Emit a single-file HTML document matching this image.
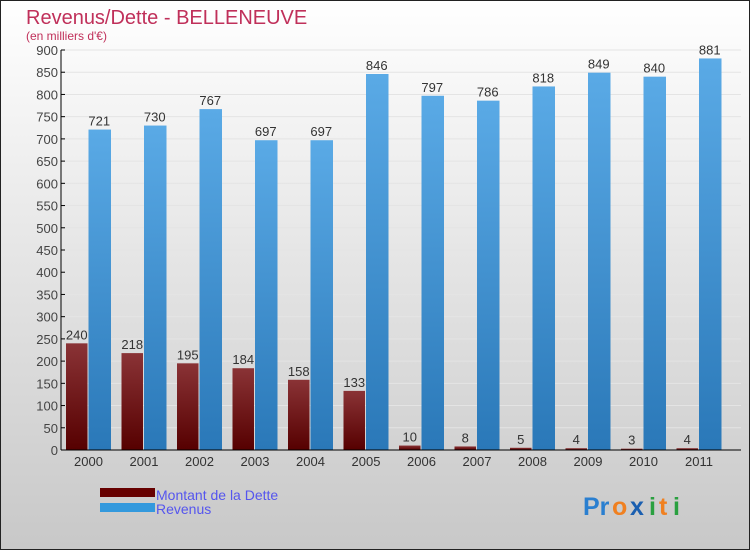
<!DOCTYPE html>
<html><head><meta charset="utf-8"><style>
body{margin:0;}
svg{display:block;font-family:"Liberation Sans",sans-serif;}
</style></head><body>
<svg id="c" width="750" height="550" xmlns="http://www.w3.org/2000/svg">
<defs>
<linearGradient id="bg" x1="0" y1="0" x2="0" y2="1"><stop offset="0" stop-color="#ffffff"/><stop offset="1" stop-color="#c8c8c8"/></linearGradient>
<linearGradient id="gd" x1="0" y1="0" x2="0" y2="1"><stop offset="0" stop-color="#8a3336"/><stop offset="1" stop-color="#560000"/></linearGradient>
<linearGradient id="gr" x1="0" y1="0" x2="0" y2="1"><stop offset="0" stop-color="#5aaae6"/><stop offset="1" stop-color="#2a78b8"/></linearGradient>
</defs>
<rect x="0.5" y="0.5" width="749" height="549" fill="url(#bg)" stroke="#222"/>
<text x="26" y="24" font-size="20" fill="#c0305a">Revenus/Dette - BELLENEUVE</text>
<text x="26" y="40" font-size="12" fill="#c0305a">(en milliers d'€)</text>
<g id="grid"></g><g id="bars"></g><g id="axes"></g>
<rect x="100" y="488" width="55" height="9" fill="#660000"/>
<text x="156" y="500" font-size="14" fill="#5555ee">Montant de la Dette</text>
<rect x="100" y="503" width="55" height="9" fill="#3399dd"/>
<text x="156" y="514" font-size="14" fill="#5555ee">Revenus</text>
<g font-size="25" font-weight="bold">
<text x="583" y="515" fill="#2a7fd0">Pr</text><text x="612" y="515" fill="#f08020">o</text><text x="630" y="515" fill="#1a5fb0">x</text><text x="649" y="515" fill="#2aa040">i</text><text x="659" y="515" fill="#f08020">t</text><text x="673" y="515" fill="#2aa040">i</text>
</g>
</svg>
<script>
const years=["2000","2001","2002","2003","2004","2005","2006","2007","2008","2009","2010","2011"];
const dette=[240,218,195,184,158,133,10,8,5,4,3,4];
const revenus=[721,730,767,697,697,846,797,786,818,849,840,881];
const ticks=[0,50,100,150,200,250,300,350,400,450,500,550,600,650,700,750,800,850,900];
const NS="http://www.w3.org/2000/svg";
const X0=61,Y0=450,XR=741,GW=55.5,BW=21.5;
const y=v=>Y0-v*400/900;
const gx=i=>X0+GW*i+27.5;
function mk(tag,attrs,parent,txt){const e=document.createElementNS(NS,tag);for(const k in attrs)e.setAttribute(k,attrs[k]);if(txt!=null)e.textContent=txt;document.getElementById(parent).appendChild(e);return e;}
ticks.forEach(t=>{
  const l=mk('line',{x1:X0,x2:XR,y1:y(t),y2:y(t),stroke:'#e4e4e4','stroke-width':1},'grid');
  
  
  const tk=mk('line',{x1:X0,x2:X0+4,y1:y(t),y2:y(t),stroke:'#000'},'axes');
  
  
  const tx=mk('text',{x:X0-3,y:y(t)+5,'font-size':13,fill:'#444','text-anchor':'end'},'axes',t);
  
  
});
years.forEach((yr,i)=>{
  const c=gx(i);
  const d=mk('rect',{x:c-BW-1,y:y(dette[i]),width:BW,height:Y0-y(dette[i]),fill:'url(#gd)'},'bars');
  
  
  const r=mk('rect',{x:c,y:y(revenus[i]),width:BW+1,height:Y0-y(revenus[i]),fill:'url(#gr)'},'bars');
  
  
  const dl=mk('text',{x:c-BW/2-1,y:y(dette[i])-4,'font-size':13,fill:'#333','text-anchor':'middle'},'bars',dette[i]);
  
  
  const rl=mk('text',{x:c+BW/2,y:y(revenus[i])-4,'font-size':13,fill:'#333','text-anchor':'middle'},'bars',revenus[i]);
  
  
  const xl=mk('text',{x:c,y:Y0+16,'font-size':13,fill:'#333','text-anchor':'middle'},'axes',yr);
  
  
});
const ya=mk('line',{x1:X0,x2:X0,y1:y(900),y2:Y0,stroke:'#000'},'axes');


const xa=mk('line',{x1:X0,x2:XR,y1:Y0,y2:Y0,stroke:'#000'},'axes');


</script>
</body></html>
